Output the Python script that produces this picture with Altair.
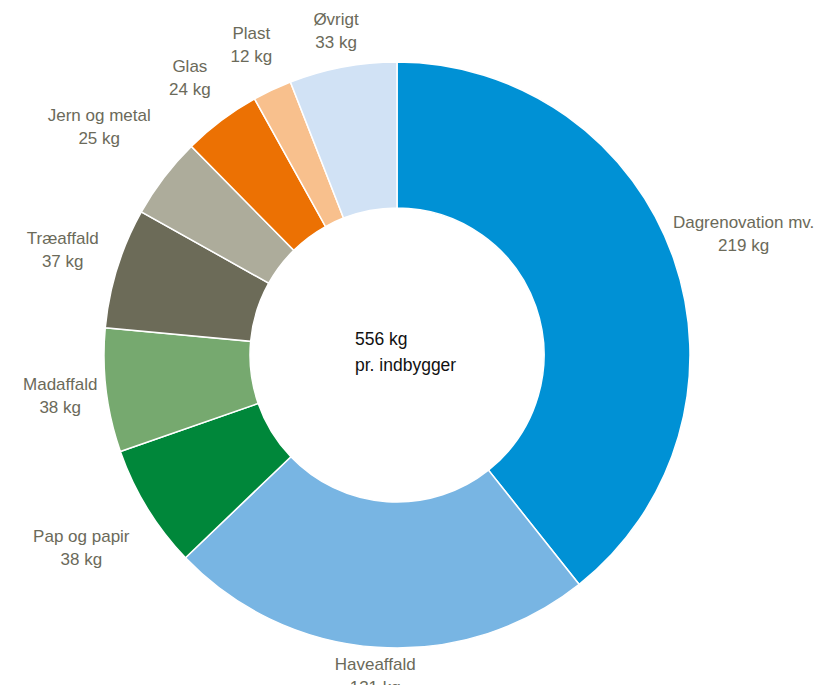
import altair as alt
import pandas as pd
import numpy as np

categories = ["Dagrenovation mv.", "Haveaffald", "Pap og papir", "Madaffald", "Træaffald",
              "Jern og metal", "Glas", "Plast", "Øvrigt"]
values = [219, 131, 38, 38, 37, 25, 24, 12, 33]
colors = ["#0091d5", "#78b5e3", "#00873a", "#76a96f", "#6c6b58",
          "#adac9b", "#ec7103", "#f8c08d", "#d1e2f5"]
center_lines = ["556 kg", "pr. indbygger"]

W, H = 810, 677
CX, CY = 389, 347

df = pd.DataFrame({"cat": categories, "value": values})
df["label"] = [f"{c}\n{v} kg" for c, v in zip(categories, values)]
total = float(df["value"].sum())
df["end"] = df["value"].cumsum().astype(float)
df["start"] = df["end"] - df["value"]
df["mid"] = (df["start"] + df["end"]) / 2
ang = df["mid"] / total * 2 * np.pi
s, c = np.abs(np.sin(ang)), np.abs(np.cos(ang))
halfw = df["cat"].str.len() * 4.2
r = 293 + halfw * s + 23 * c + 50 * s * c
# keep labels inside the right edge of the view
r_max = (W - CX - 3 - halfw) / np.maximum(s, 1e-6)
df["r"] = np.minimum(r, r_max)

tscale = alt.Scale(domain=[0, total], range=[0, 2 * np.pi])

arcs = alt.Chart(df).mark_arc(outerRadius=293, innerRadius=147, stroke="white", strokeWidth=1.5).encode(
    theta=alt.Theta("start:Q", scale=tscale),
    theta2="end:Q",
    color=alt.Color("cat:N", scale=alt.Scale(domain=categories, range=colors), legend=None),
    x=alt.value(CX), y=alt.value(CY),
)

labels = alt.Chart(df).mark_text(font="Liberation Sans", fontSize=17, color="#6b6a5a",
                                 lineBreak="\n", lineHeight=23, align="center", baseline="middle",
                                 dy=-11.5).encode(
    theta=alt.Theta("mid:Q", scale=tscale),
    text="label:N",
    radius=alt.Radius("r:Q", scale=None),
    x=alt.value(CX), y=alt.value(CY),
)

cdf = pd.DataFrame({"t": ["\n".join(center_lines)]})
center = alt.Chart(cdf).mark_text(font="Liberation Sans", fontSize=17.5, color="#111111",
                                  lineBreak="\n", lineHeight=26, align="left", baseline="middle").encode(
    text="t:N", x=alt.value(347), y=alt.value(332),
)

chart = alt.layer(arcs, labels, center).properties(
    width=W, height=H, autosize="none", padding=0
).configure_view(stroke=None)

chart.save("out.html", embed_options={"renderer": "svg", "actions": False})
